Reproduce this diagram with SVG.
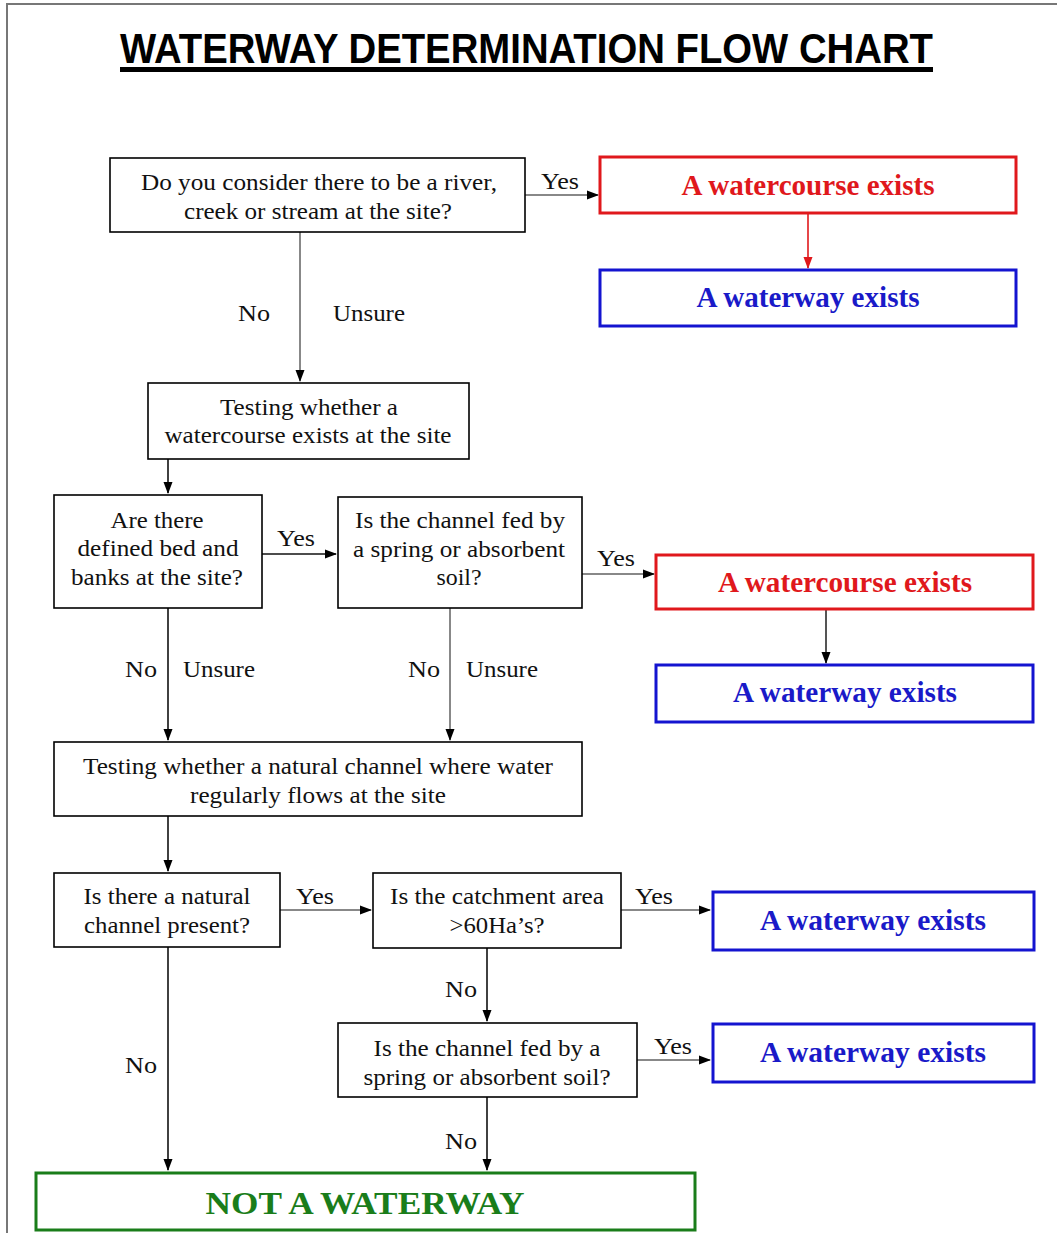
<svg xmlns="http://www.w3.org/2000/svg" width="1057" height="1233" viewBox="0 0 1057 1233">
<defs>
<marker id="ah" markerWidth="12" markerHeight="12" refX="11" refY="6" orient="auto" markerUnits="userSpaceOnUse"><path d="M0,1.5 L12,6 L0,10.5 Z" fill="#000"/></marker>
<marker id="ahr" markerWidth="12" markerHeight="12" refX="11" refY="6" orient="auto" markerUnits="userSpaceOnUse"><path d="M0,1.5 L12,6 L0,10.5 Z" fill="#e0181c"/></marker>
<style>
.q{fill:#fff;stroke:#000;stroke-width:1.6}
.red{fill:#fff;stroke:#e0181c;stroke-width:3}
.blue{fill:#fff;stroke:#1414d0;stroke-width:3}
.green{fill:#fff;stroke:#1a7d1a;stroke-width:3}
.t{font-family:"Liberation Serif","Times New Roman",serif;font-size:24px;fill:#111;text-anchor:middle}
.l{font-family:"Liberation Serif","Times New Roman",serif;font-size:24px;fill:#111}
.br{font-family:"Liberation Serif","Times New Roman",serif;font-size:29px;font-weight:bold;fill:#e0181c;text-anchor:middle}
.bb{font-family:"Liberation Serif","Times New Roman",serif;font-size:29px;font-weight:bold;fill:#1a1ac8;text-anchor:middle}
.bg{font-family:"Liberation Serif","Times New Roman",serif;font-size:31px;font-weight:bold;fill:#1a7d1a;text-anchor:middle}
.k{stroke:#111;stroke-width:1.6;fill:none}
.g{stroke:#888;stroke-width:2;fill:none}
</style>
</defs>
<rect width="1057" height="1233" fill="#fff"/>
<path d="M7,1233 V4 H1057" stroke="#777" stroke-width="2" fill="none"/>
<g id="title">
<text x="120" y="63" font-family="Liberation Sans, Arial, sans-serif" font-weight="bold" font-size="43" textLength="813" lengthAdjust="spacingAndGlyphs">WATERWAY DETERMINATION FLOW CHART</text>
<rect x="120" y="67" width="813" height="5" fill="#000"/>
</g>
<g id="connectors">
<line class="g" x1="525" y1="195" x2="598" y2="195" marker-end="url(#ah)"/>
<line x1="808" y1="213" x2="808" y2="268" stroke="#e0181c" stroke-width="1.6" marker-end="url(#ahr)"/>
<line class="g" x1="300" y1="232" x2="300" y2="381" marker-end="url(#ah)"/>
<line class="k" x1="168" y1="459" x2="168" y2="493" marker-end="url(#ah)"/>
<line class="k" x1="262" y1="554" x2="336" y2="554" stroke-width="2" marker-end="url(#ah)"/>
<line class="g" x1="582" y1="574" x2="654" y2="574" marker-end="url(#ah)"/>
<line x1="826" y1="609" x2="826" y2="663" stroke="#555" stroke-width="2" marker-end="url(#ah)"/>
<line class="k" x1="168" y1="608" x2="168" y2="740" marker-end="url(#ah)"/>
<line class="g" x1="450" y1="608" x2="450" y2="740" marker-end="url(#ah)"/>
<line class="k" x1="168" y1="816" x2="168" y2="871" marker-end="url(#ah)"/>
<line class="g" x1="280" y1="910" x2="371" y2="910" marker-end="url(#ah)"/>
<line class="g" x1="621" y1="910" x2="710" y2="910" marker-end="url(#ah)"/>
<line class="k" x1="487" y1="948" x2="487" y2="1021" stroke-width="2" marker-end="url(#ah)"/>
<line class="g" x1="637" y1="1060" x2="710" y2="1060" marker-end="url(#ah)"/>
<line class="k" x1="487" y1="1097" x2="487" y2="1170" stroke-width="2" marker-end="url(#ah)"/>
<line class="k" x1="168" y1="947" x2="168" y2="1170" stroke="#333" marker-end="url(#ah)"/>
<text class="l" x="541" y="189" textLength="38" lengthAdjust="spacingAndGlyphs">Yes</text>
<text class="l" x="238" y="321" textLength="32" lengthAdjust="spacingAndGlyphs">No</text>
<text class="l" x="333" y="321" textLength="72" lengthAdjust="spacingAndGlyphs">Unsure</text>
<text class="l" x="277" y="546" textLength="38" lengthAdjust="spacingAndGlyphs">Yes</text>
<text class="l" x="597" y="566" textLength="38" lengthAdjust="spacingAndGlyphs">Yes</text>
<text class="l" x="125" y="677" textLength="32" lengthAdjust="spacingAndGlyphs">No</text>
<text class="l" x="183" y="677" textLength="72" lengthAdjust="spacingAndGlyphs">Unsure</text>
<text class="l" x="408" y="677" textLength="32" lengthAdjust="spacingAndGlyphs">No</text>
<text class="l" x="466" y="677" textLength="72" lengthAdjust="spacingAndGlyphs">Unsure</text>
<text class="l" x="296" y="904" textLength="38" lengthAdjust="spacingAndGlyphs">Yes</text>
<text class="l" x="635" y="904" textLength="38" lengthAdjust="spacingAndGlyphs">Yes</text>
<text class="l" x="445" y="997" textLength="32" lengthAdjust="spacingAndGlyphs">No</text>
<text class="l" x="654" y="1054" textLength="38" lengthAdjust="spacingAndGlyphs">Yes</text>
<text class="l" x="125" y="1073" textLength="32" lengthAdjust="spacingAndGlyphs">No</text>
<text class="l" x="445" y="1149" textLength="32" lengthAdjust="spacingAndGlyphs">No</text>
</g>
<g id="q1">
<rect class="q" x="110" y="158" width="415" height="74"/>
<text class="t" x="319" y="190" textLength="356" lengthAdjust="spacingAndGlyphs">Do you consider there to be a river,</text>
<text class="t" x="318" y="219" textLength="268" lengthAdjust="spacingAndGlyphs">creek or stream at the site?</text>
</g>
<g id="watercourse1">
<rect class="red" x="600" y="157" width="416" height="56"/>
<text class="br" x="808" y="195" textLength="253" lengthAdjust="spacingAndGlyphs">A watercourse exists</text>
</g>
<g id="waterway1">
<rect class="blue" x="600" y="270" width="416" height="56"/>
<text class="bb" x="808" y="307" textLength="223" lengthAdjust="spacingAndGlyphs">A waterway exists</text>
</g>
<g id="testing1">
<rect class="q" x="148" y="383" width="321" height="76"/>
<text class="t" x="309" y="415" textLength="178" lengthAdjust="spacingAndGlyphs">Testing whether a</text>
<text class="t" x="308" y="443" textLength="287" lengthAdjust="spacingAndGlyphs">watercourse exists at the site</text>
</g>
<g id="q2">
<rect class="q" x="54" y="495" width="208" height="113"/>
<text class="t" x="157" y="528" textLength="93" lengthAdjust="spacingAndGlyphs">Are there</text>
<text class="t" x="158" y="556" textLength="161" lengthAdjust="spacingAndGlyphs">defined bed and</text>
<text class="t" x="157" y="585" textLength="172" lengthAdjust="spacingAndGlyphs">banks at the site?</text>
</g>
<g id="q3">
<rect class="q" x="338" y="497" width="244" height="111"/>
<text class="t" x="460" y="528" textLength="210" lengthAdjust="spacingAndGlyphs">Is the channel fed by</text>
<text class="t" x="459" y="557" textLength="212" lengthAdjust="spacingAndGlyphs">a spring or absorbent</text>
<text class="t" x="459" y="585" textLength="45" lengthAdjust="spacingAndGlyphs">soil?</text>
</g>
<g id="watercourse2">
<rect class="red" x="656" y="555" width="377" height="54"/>
<text class="br" x="845" y="592" textLength="254" lengthAdjust="spacingAndGlyphs">A watercourse exists</text>
</g>
<g id="waterway2">
<rect class="blue" x="656" y="665" width="377" height="57"/>
<text class="bb" x="845" y="702" textLength="224" lengthAdjust="spacingAndGlyphs">A waterway exists</text>
</g>
<g id="testing2">
<rect class="q" x="54" y="742" width="528" height="74"/>
<text class="t" x="318" y="774" textLength="470" lengthAdjust="spacingAndGlyphs">Testing whether a natural channel where water</text>
<text class="t" x="318" y="803" textLength="256" lengthAdjust="spacingAndGlyphs">regularly flows at the site</text>
</g>
<g id="q4">
<rect class="q" x="54" y="873" width="226" height="74"/>
<text class="t" x="167" y="904" textLength="167" lengthAdjust="spacingAndGlyphs">Is there a natural</text>
<text class="t" x="167" y="933" textLength="166" lengthAdjust="spacingAndGlyphs">channel present?</text>
</g>
<g id="q5">
<rect class="q" x="373" y="873" width="248" height="75"/>
<text class="t" x="497" y="904" textLength="214" lengthAdjust="spacingAndGlyphs">Is the catchment area</text>
<text class="t" x="497" y="933" textLength="95" lengthAdjust="spacingAndGlyphs">&gt;60Ha’s?</text>
</g>
<g id="waterway3">
<rect class="blue" x="713" y="892" width="321" height="58"/>
<text class="bb" x="873" y="930" textLength="226" lengthAdjust="spacingAndGlyphs">A waterway exists</text>
</g>
<g id="q6">
<rect class="q" x="338" y="1023" width="299" height="74"/>
<text class="t" x="487" y="1056" textLength="227" lengthAdjust="spacingAndGlyphs">Is the channel fed by a</text>
<text class="t" x="487" y="1085" textLength="247" lengthAdjust="spacingAndGlyphs">spring or absorbent soil?</text>
</g>
<g id="waterway4">
<rect class="blue" x="713" y="1024" width="321" height="58"/>
<text class="bb" x="873" y="1062" textLength="226" lengthAdjust="spacingAndGlyphs">A waterway exists</text>
</g>
<g id="notwaterway">
<rect class="green" x="36" y="1173" width="659" height="57"/>
<text class="bg" x="365" y="1214" textLength="319" lengthAdjust="spacingAndGlyphs">NOT A WATERWAY</text>
</g>
</svg>
